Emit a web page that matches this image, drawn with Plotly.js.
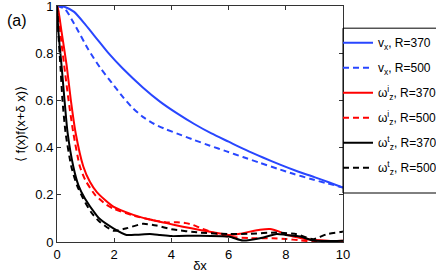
<!DOCTYPE html>
<html>
<head>
<meta charset="utf-8">
<script src="https://cdn.plot.ly/plotly-3.0.1.min.js"></script>
<style>html,body{margin:0;padding:0;background:#fff;}#chart{width:436px;height:273px;}</style>
</head>
<body>
<div id="chart"></div>
<script>
// v_x, R=370
const vx370_x = [0, 0.3, 0.6, 1.0, 1.4, 1.8, 2.3, 3.0, 3.6, 4.2, 4.8, 5.4, 6.0, 6.6, 7.2, 7.8, 8.4, 9.0, 9.5, 10];
const vx370_y = [1, 0.995, 0.975, 0.92, 0.86, 0.80, 0.735, 0.655, 0.595, 0.545, 0.5, 0.46, 0.425, 0.39, 0.358, 0.328, 0.3, 0.275, 0.253, 0.231];
// v_x, R=500
const vx500_x = [0, 0.28, 0.6, 1.09, 1.5, 1.91, 2.3, 2.61, 3.0, 3.4, 3.8, 4.3, 4.8, 5.35, 5.93, 6.5, 7.1, 7.7, 8.26, 8.85, 9.43, 10];
const vx500_y = [1, 0.987, 0.925, 0.817, 0.74, 0.675, 0.615, 0.572, 0.53, 0.5, 0.478, 0.455, 0.432, 0.408, 0.384, 0.36, 0.335, 0.311, 0.289, 0.268, 0.249, 0.231];
// omega_z^i, R=370
const wi370_x = [0, 0.05, 0.16, 0.34, 0.48, 0.65, 0.92, 1.15, 1.4, 1.97, 2.67, 3.25, 3.83, 4.4, 5.0, 5.5, 6.0, 6.4, 6.75, 7.1, 7.45, 7.75, 8.0, 8.4, 8.73, 9.2, 9.65, 10];
const wi370_y = [1, 0.98, 0.89, 0.746, 0.604, 0.463, 0.32, 0.255, 0.21, 0.15, 0.115, 0.095, 0.08, 0.065, 0.051, 0.04, 0.03, 0.035, 0.044, 0.052, 0.055, 0.045, 0.032, 0.02, 0.012, 0.007, 0.004, 0.005];
// omega_z^i, R=500
const wi500_x = [0, 0.05, 0.15, 0.28, 0.4, 0.57, 0.8, 1.0, 1.33, 1.7, 2.0, 2.67, 3.25, 3.83, 4.2, 4.5, 4.76, 5.05, 5.35, 5.7, 6.0, 6.75, 7.55, 8.0, 8.5, 8.96, 10];
const wi500_y = [1, 0.97, 0.85, 0.72, 0.604, 0.463, 0.32, 0.26, 0.2, 0.16, 0.14, 0.112, 0.095, 0.083, 0.084, 0.08, 0.072, 0.058, 0.044, 0.03, 0.023, 0.016, 0.016, 0.013, 0.007, 0.002, 0.002];
// omega_z^t, R=370
const wt370_x = [0, 0.05, 0.16, 0.26, 0.37, 0.57, 0.75, 0.98, 1.39, 1.5, 1.97, 2.43, 2.8, 3.25, 3.6, 4.0, 5.0, 6.0, 6.5, 7.1, 7.68, 8.0, 8.38, 8.6, 8.96, 9.65, 10];
const wt370_y = [1, 0.89, 0.746, 0.604, 0.463, 0.32, 0.24, 0.183, 0.112, 0.097, 0.058, 0.03, 0.031, 0.034, 0.03, 0.025, 0.027, 0.023, 0.006, 0.016, 0.034, 0.03, 0.025, 0.02, 0.006, 0.004, 0.005];
// omega_z^t, R=500
const wt500_x = [0, 0.04, 0.12, 0.19, 0.3, 0.5, 0.7, 0.92, 1.2, 1.5, 1.97, 2.43, 3.0, 3.48, 4.0, 5.0, 6.0, 6.75, 7.68, 8.38, 8.96, 9.43, 9.9, 10];
const wt500_y = [1, 0.9, 0.746, 0.604, 0.463, 0.32, 0.24, 0.183, 0.125, 0.085, 0.048, 0.058, 0.077, 0.07, 0.054, 0.04, 0.034, 0.035, 0.04, 0.033, 0.012, 0.033, 0.042, 0.045];

const legendNames = [
  "v<sub>x</sub>, R=370",
  "v<sub>x</sub>, R=500",
  "ω<sup>i</sup><sub>z</sub>, R=370",
  "ω<sup>i</sup><sub>z</sub>, R=500",
  "ω<sup>t</sup><sub>z</sub>, R=370",
  "ω<sup>t</sup><sub>z</sub>, R=500"
];
const xTicks = [0, 2, 4, 6, 8, 10];
const yTicks = [0, 0.2, 0.4, 0.6, 0.8, 1];
const yTickText = ["0", "0.2", "0.4", "0.6", "0.8", "1"];

const BLUE = "rgb(40,70,255)", RED = "rgb(255,0,0)", BLACK = "rgb(0,0,0)";
let gi = 0;
function tr(x, y, name, color, dash) {
  gi += 1;
  return {x: x, y: y, name: name, legendgroup: "g" + gi, type: "scatter", mode: "lines",
    line: {color: color, width: 2, dash: dash, shape: "spline", smoothing: 0.6}};
}
const DASH = "6px,4px";
const data = [
  tr(vx370_x, vx370_y, legendNames[0], BLUE, "solid"),
  tr(vx500_x, vx500_y, legendNames[1], BLUE, DASH),
  tr(wi370_x, wi370_y, legendNames[2], RED, "solid"),
  tr(wi500_x, wi500_y, legendNames[3], RED, DASH),
  tr(wt370_x, wt370_y, legendNames[4], BLACK, "solid"),
  tr(wt500_x, wt500_y, legendNames[5], BLACK, DASH)
];
const axisCommon = {showline: true, linecolor: "#333", linewidth: 1, mirror: "ticks",
  ticks: "inside", ticklen: 4, tickcolor: "#333", showgrid: false, zeroline: false,
  ticklabeloverflow: "allow",
  tickfont: {family: "Liberation Sans, Arial", size: 13, color: "#000"}};
const layout = {
  width: 436, height: 273,
  margin: {l: 57, r: 93, t: 6, b: 31, pad: 0, autoexpand: false},
  paper_bgcolor: "#fff", plot_bgcolor: "#fff",
  font: {family: "Liberation Sans, Arial", color: "#000"},
  showlegend: true,
  xaxis: Object.assign({}, axisCommon, {range: [0, 10], tickvals: xTicks, ticktext: xTicks.map(String),
    title: {text: "δx", font: {size: 13}, standoff: 2}}),
  yaxis: Object.assign({}, axisCommon, {range: [0, 1], tickvals: yTicks, ticktext: yTickText,
    title: {text: "⟨ f(x)f(x+δ x)⟩", font: {size: 13}, standoff: 6}}),
  legend: {x: 0.9825, xanchor: "left", y: 0.906, yanchor: "top", bgcolor: "rgba(0,0,0,0)",
    borderwidth: 0, font: {size: 12}, itemwidth: 30, tracegroupgap: 6},
  shapes: [{type: "rect", xref: "paper", yref: "paper", x0: 1.0, x1: 1.5, y0: 0.2076, y1: 0.906,
    line: {color: "#000", width: 1}, fillcolor: "rgba(0,0,0,0)", layer: "above"}],
  annotations: [{text: "(a)", xref: "paper", yref: "paper", x: -0.14, y: 0.94, xanchor: "center", yanchor: "middle",
    showarrow: false, font: {size: 16}}]
};
Plotly.newPlot("chart", data, layout, {staticPlot: true, displayModeBar: false});
</script>
</body>
</html>
